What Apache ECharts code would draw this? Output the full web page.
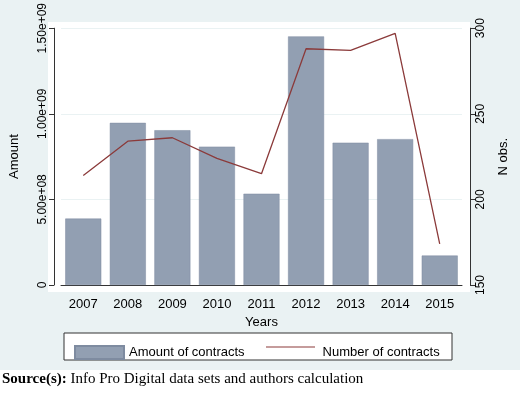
<!DOCTYPE html>
<html><head><meta charset="utf-8">
<script src="https://cdn.jsdelivr.net/npm/echarts@6/dist/echarts.min.js"></script>
<style>html,body{margin:0;padding:0;background:#fff}#c{width:520px;height:401px}</style>
</head><body><div id="c"></div>
<script>
const years = ['2007','2008','2009','2010','2011','2012','2013','2014','2015'];
const amount = [3.88e8, 9.47e8, 9.04e8, 8.08e8, 5.33e8, 1.452e9, 8.31e8, 8.52e8, 1.72e8];
const nobs = [214, 234, 236, 224, 215, 288, 287, 297, 174];
const leftTicks = {0:'0', 500000000:'5.00e+08', 1000000000:'1.00e+09', 1500000000:'1.50e+09'};
const F = '"Liberation Sans", Arial, sans-serif';
const chart = echarts.init(document.getElementById('c'));
chart.setOption({
  backgroundColor: '#eaf2f3',
  animation: false,
  textStyle: {fontFamily: F},
  graphic: [
    {type:'rect', shape:{x:48,y:22,width:422,height:270}, style:{fill:'#fff'}, z:-10, silent:true},
    {type:'rect', shape:{x:0,y:370,width:520,height:31}, style:{fill:'#fff'}, z:-10, silent:true},
    {type:'rect', shape:{x:64,y:333,width:388,height:27}, style:{fill:'#fff', stroke:'#333', lineWidth:1}, z:-5, silent:true},
    {type:'line', shape:{x1:266,y1:347,x2:315,y2:347}, style:{stroke:'#8b3a3a', lineWidth:1.2}, z:10, silent:true},
    {type:'text', left:2, top:372, style:{text:'{b|Source(s):} Info Pro Digital data sets and authors calculation', rich:{b:{fontWeight:'bold', fontFamily:'"Liberation Serif", serif', fontSize:15}}, fontFamily:'"Liberation Serif", serif', fontSize:15, fill:'#000'}}
  ],
  legend: {
    left: 69, top: 340, itemWidth: 49, itemHeight: 13, itemGap: 24,
    textStyle: {fontSize: 13, color: '#000', fontFamily: F},
    data: [{name:'Amount of contracts', icon:'rect'}, {name:'Number of contracts', icon:'rect', itemStyle:{opacity:0}}]
  },
  grid: {left: 55, right: 58, top: 22, bottom: 116},
  xAxis: {
    type: 'category', data: years, offset: 7,
    name: 'Years', nameLocation: 'middle', nameGap: 24,
    nameTextStyle: {fontSize: 13, color: '#000'},
    axisLine: {lineStyle: {color: '#333'}},
    axisTick: {alignWithLabel: true, length: 5, lineStyle: {color: '#333'}},
    axisLabel: {fontSize: 13, color: '#000', margin: 6}
  },
  yAxis: [{
    type: 'value', min: 0, max: 1.5e9, interval: 5e8, offset: 7,
    name: 'Amount', nameLocation: 'middle', nameGap: 33, nameRotate: 90,
    nameTextStyle: {fontSize: 13, color: '#000'},
    axisLine: {show: true, lineStyle: {color: '#333'}},
    axisTick: {show: true, length: 5, lineStyle: {color: '#333'}},
    axisLabel: {rotate: 90, fontSize: 12, color: '#000', margin: 5, formatter: v => leftTicks[v] ?? ''},
    splitLine: {lineStyle: {color: '#eaf2f3', width: 1}}
  }, {
    type: 'value', min: 150, max: 300, interval: 50, offset: 8, position: 'right',
    name: 'N obs.', nameLocation: 'middle', nameGap: 27, nameRotate: 90,
    nameTextStyle: {fontSize: 13, color: '#000'},
    axisLine: {show: true, lineStyle: {color: '#333'}},
    axisTick: {show: true, length: 5, lineStyle: {color: '#333'}},
    axisLabel: {rotate: 90, fontSize: 12, color: '#000', margin: 5},
    splitLine: {show: false}
  }],
  series: [{
    name: 'Amount of contracts', type: 'bar', data: amount, barWidth: 36,
    itemStyle: {color: '#929fb2', borderColor: '#7e8ba0', borderWidth: 0.5}
  }, {
    name: 'Number of contracts', type: 'line', yAxisIndex: 1, data: nobs,
    symbol: 'none', lineStyle: {color: '#8b3a3a', width: 1.3}, itemStyle: {color: '#8b3a3a'}
  }]
});
</script></body></html>
